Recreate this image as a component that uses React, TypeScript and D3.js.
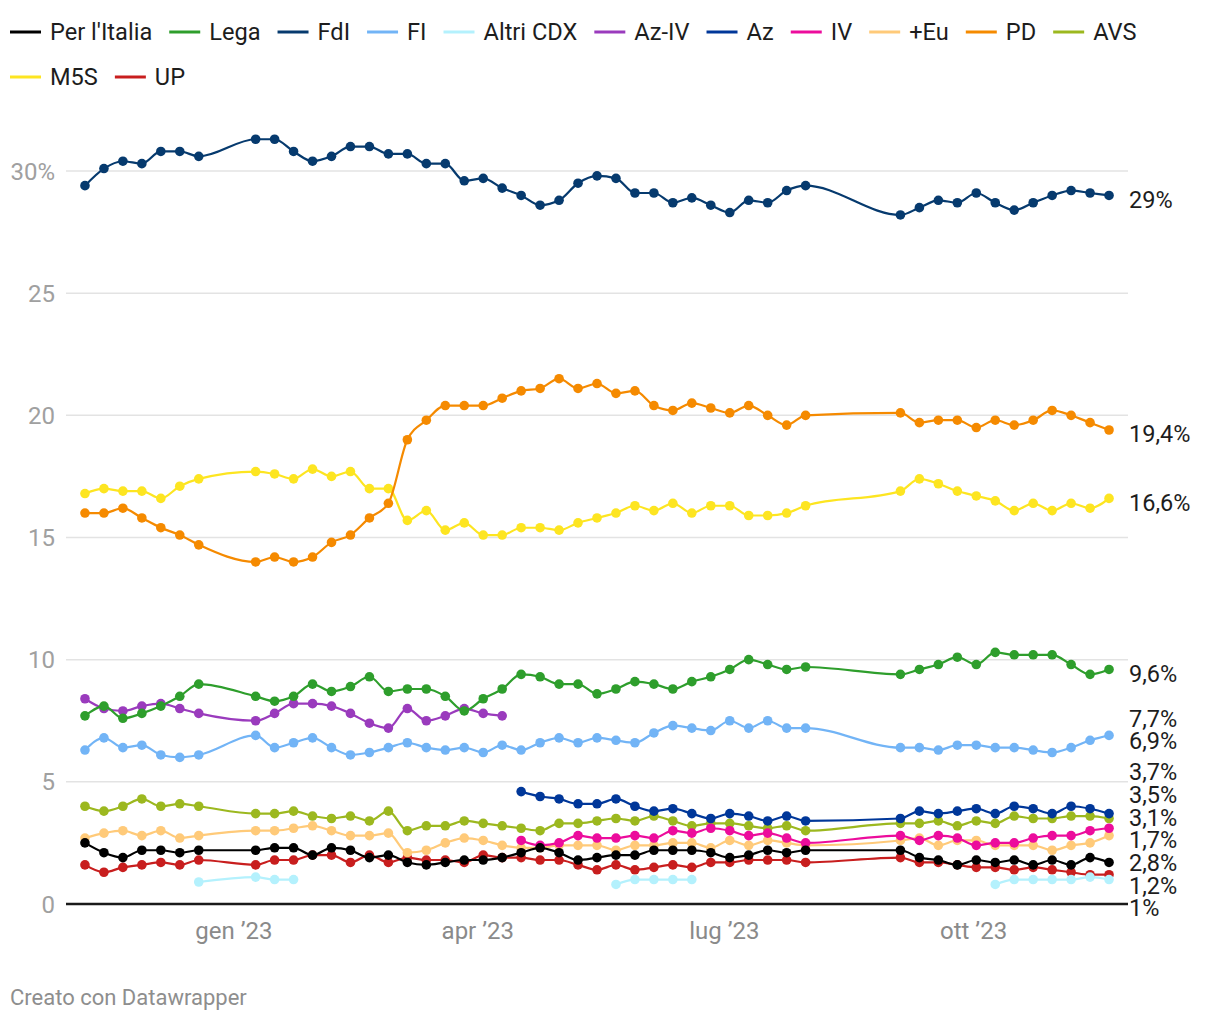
import React, { useMemo } from "react";
import * as d3 from "d3";

// ---------- DATA ----------
const dates = [
  "2022-11-07", "2022-11-14", "2022-11-21", "2022-11-28", "2022-12-05", "2022-12-12", "2022-12-19",
  "2023-01-09", "2023-01-16", "2023-01-23", "2023-01-30", "2023-02-06", "2023-02-13", "2023-02-20",
  "2023-02-27", "2023-03-06", "2023-03-13", "2023-03-20", "2023-03-27", "2023-04-03", "2023-04-10",
  "2023-04-17", "2023-04-24", "2023-05-01", "2023-05-08", "2023-05-15", "2023-05-22", "2023-05-29",
  "2023-06-05", "2023-06-12", "2023-06-19", "2023-06-26", "2023-07-03", "2023-07-10", "2023-07-17",
  "2023-07-24", "2023-07-31", "2023-09-04", "2023-09-11", "2023-09-18", "2023-09-25", "2023-10-02",
  "2023-10-09", "2023-10-16", "2023-10-23", "2023-10-30", "2023-11-06", "2023-11-13", "2023-11-20",
];

const n = null;

const perItalia = [2.5, 2.1, 1.9, 2.2, 2.2, 2.1, 2.2, 2.2, 2.3, 2.3, 2.0, 2.3, 2.2, 1.9, 2.0, 1.7, 1.6, 1.7, 1.8, 1.8, 1.9, 2.1, 2.3, 2.1, 1.8, 1.9, 2.0, 2.0, 2.2, 2.2, 2.2, 2.1, 1.9, 2.0, 2.2, 2.1, 2.2, 2.2, 1.9, 1.8, 1.6, 1.8, 1.7, 1.8, 1.6, 1.8, 1.6, 1.9, 1.7];
const lega = [7.7, 8.1, 7.6, 7.8, 8.1, 8.5, 9.0, 8.5, 8.3, 8.5, 9.0, 8.7, 8.9, 9.3, 8.7, 8.8, 8.8, 8.5, 7.9, 8.4, 8.8, 9.4, 9.3, 9.0, 9.0, 8.6, 8.8, 9.1, 9.0, 8.8, 9.1, 9.3, 9.6, 10.0, 9.8, 9.6, 9.7, 9.4, 9.6, 9.8, 10.1, 9.8, 10.3, 10.2, 10.2, 10.2, 9.8, 9.4, 9.6];
const fdi = [29.4, 30.1, 30.4, 30.3, 30.8, 30.8, 30.6, 31.3, 31.3, 30.8, 30.4, 30.6, 31.0, 31.0, 30.7, 30.7, 30.3, 30.3, 29.6, 29.7, 29.3, 29.0, 28.6, 28.8, 29.5, 29.8, 29.7, 29.1, 29.1, 28.7, 28.9, 28.6, 28.3, 28.8, 28.7, 29.2, 29.4, 28.2, 28.5, 28.8, 28.7, 29.1, 28.7, 28.4, 28.7, 29.0, 29.2, 29.1, 29.0];
const fi = [6.3, 6.8, 6.4, 6.5, 6.1, 6.0, 6.1, 6.9, 6.4, 6.6, 6.8, 6.4, 6.1, 6.2, 6.4, 6.6, 6.4, 6.3, 6.4, 6.2, 6.5, 6.3, 6.6, 6.8, 6.6, 6.8, 6.7, 6.6, 7.0, 7.3, 7.2, 7.1, 7.5, 7.2, 7.5, 7.2, 7.2, 6.4, 6.4, 6.3, 6.5, 6.5, 6.4, 6.4, 6.3, 6.2, 6.4, 6.7, 6.9];
const altriCdx = [n, n, n, n, n, n, 0.9, 1.1, 1.0, 1.0, n, n, n, n, n, n, n, n, n, n, n, n, n, n, n, n, 0.8, 1.0, 1.0, 1.0, 1.0, n, n, n, n, n, n, n, n, n, n, n, 0.8, 1.0, 1.0, 1.0, 1.0, 1.1, 1.0];
const azIv = [8.4, 8.0, 7.9, 8.1, 8.2, 8.0, 7.8, 7.5, 7.8, 8.2, 8.2, 8.1, 7.8, 7.4, 7.2, 8.0, 7.5, 7.7, 8.0, 7.8, 7.7, n, n, n, n, n, n, n, n, n, n, n, n, n, n, n, n, n, n, n, n, n, n, n, n, n, n, n, n];
const az = [n, n, n, n, n, n, n, n, n, n, n, n, n, n, n, n, n, n, n, n, n, 4.6, 4.4, 4.3, 4.1, 4.1, 4.3, 4.0, 3.8, 3.9, 3.7, 3.5, 3.7, 3.6, 3.4, 3.6, 3.4, 3.5, 3.8, 3.7, 3.8, 3.9, 3.7, 4.0, 3.9, 3.7, 4.0, 3.9, 3.7];
const iv = [n, n, n, n, n, n, n, n, n, n, n, n, n, n, n, n, n, n, n, n, n, 2.6, 2.4, 2.5, 2.8, 2.7, 2.7, 2.8, 2.7, 3.0, 2.9, 3.1, 3.0, 2.8, 2.9, 2.7, 2.5, 2.8, 2.6, 2.8, 2.7, 2.4, 2.5, 2.5, 2.7, 2.8, 2.8, 3.0, 3.1];
const piuEuropa = [2.7, 2.9, 3.0, 2.8, 3.0, 2.7, 2.8, 3.0, 3.0, 3.1, 3.2, 3.0, 2.8, 2.8, 2.9, 2.1, 2.2, 2.5, 2.7, 2.6, 2.4, 2.3, 2.3, 2.4, 2.4, 2.4, 2.2, 2.4, 2.4, 2.5, 2.5, 2.3, 2.6, 2.4, 2.6, 2.5, 2.4, 2.6, 2.7, 2.4, 2.6, 2.6, 2.4, 2.4, 2.4, 2.2, 2.4, 2.5, 2.8];
const pd = [16.0, 16.0, 16.2, 15.8, 15.4, 15.1, 14.7, 14.0, 14.2, 14.0, 14.2, 14.8, 15.1, 15.8, 16.4, 19.0, 19.8, 20.4, 20.4, 20.4, 20.7, 21.0, 21.1, 21.5, 21.1, 21.3, 20.9, 21.0, 20.4, 20.2, 20.5, 20.3, 20.1, 20.4, 20.0, 19.6, 20.0, 20.1, 19.7, 19.8, 19.8, 19.5, 19.8, 19.6, 19.8, 20.2, 20.0, 19.7, 19.4];
const avs = [4.0, 3.8, 4.0, 4.3, 4.0, 4.1, 4.0, 3.7, 3.7, 3.8, 3.6, 3.5, 3.6, 3.4, 3.8, 3.0, 3.2, 3.2, 3.4, 3.3, 3.2, 3.1, 3.0, 3.3, 3.3, 3.4, 3.5, 3.4, 3.6, 3.4, 3.2, 3.3, 3.3, 3.2, 3.1, 3.2, 3.0, 3.3, 3.3, 3.4, 3.2, 3.4, 3.3, 3.6, 3.5, 3.5, 3.6, 3.6, 3.5];
const m5s = [16.8, 17.0, 16.9, 16.9, 16.6, 17.1, 17.4, 17.7, 17.6, 17.4, 17.8, 17.5, 17.7, 17.0, 17.0, 15.7, 16.1, 15.3, 15.6, 15.1, 15.1, 15.4, 15.4, 15.3, 15.6, 15.8, 16.0, 16.3, 16.1, 16.4, 16.0, 16.3, 16.3, 15.9, 15.9, 16.0, 16.3, 16.9, 17.4, 17.2, 16.9, 16.7, 16.5, 16.1, 16.4, 16.1, 16.4, 16.2, 16.6];
const up = [1.6, 1.3, 1.5, 1.6, 1.7, 1.6, 1.8, 1.6, 1.8, 1.8, 2.0, 2.0, 1.7, 2.0, 1.7, 1.9, 1.8, 1.8, 1.7, 2.0, 1.9, 1.9, 1.8, 1.8, 1.6, 1.4, 1.6, 1.4, 1.5, 1.6, 1.5, 1.7, 1.7, 1.8, 1.8, 1.8, 1.7, 1.9, 1.7, 1.7, 1.6, 1.5, 1.5, 1.4, 1.5, 1.4, 1.3, 1.2, 1.2];

const seriesNames = ["Per l'Italia", "Lega", "FdI", "FI", "Altri CDX", "Az-IV", "Az", "IV", "+Eu", "PD", "AVS", "M5S", "UP"];
const seriesValues = [perItalia, lega, fdi, fi, altriCdx, azIv, az, iv, piuEuropa, pd, avs, m5s, up];
const seriesColors = ["#000000", "#2e9e2c", "#063a6e", "#72b4f6", "#b4f1fd", "#9a3bbd", "#003799", "#ec0c9c", "#ffca79", "#f58a00", "#9cb81f", "#fde521", "#c81e1e"];

// order of the stacked end labels, top to bottom
const endLabelOrder = ["FdI", "PD", "M5S", "Lega", "Az-IV", "FI", "Az", "AVS", "IV", "Per l'Italia", "+Eu", "UP", "Altri CDX"];

const yTicks = [0, 5, 10, 15, 20, 25, 30];
const xTickDates = ["2023-01-01", "2023-04-01", "2023-07-01", "2023-10-01"];
const xTickLabels = ["gen ’23", "apr ’23", "lug ’23", "ott ’23"];
const xDomain = ["2022-10-31", "2023-11-27"];

// ---------- LAYOUT ----------
const W = 1220;
const H = 1020;
const FONT = "Roboto, 'Noto Sans', sans-serif";
const plot = { left: 66, right: 1128, top: 171, bottom: 904 };
const legendFs = 23.6;
const axisFs = 24;
const labelFs = 23.5;
const footFs = 22;

function fmt(v: number) {
  return (Math.round(v * 10) / 10).toString().replace(".", ",") + "%";
}

export default function App() {
  const parse = d3.utcParse("%Y-%m-%d");
  const x = d3.scaleUtc().domain(xDomain.map((d) => parse(d) as Date)).range([plot.left, plot.right]);
  const y = d3.scaleLinear().domain([0, 30]).range([plot.bottom, plot.top]);
  const xs = dates.map((d) => x(parse(d) as Date));

  const series = seriesNames.map((name, i) => ({
    name,
    color: seriesColors[i],
    values: seriesValues[i],
  }));

  const line = d3
    .line<number | null>()
    .defined((d) => d != null)
    .x((_, i) => xs[i])
    .y((d) => y(d as number))
    .curve(d3.curveMonotoneX);

  // legend layout using text measurement
  const legendItems = useMemo(() => {
    const ctx = document.createElement("canvas").getContext("2d")!;
    ctx.font = `${legendFs}px Roboto`;
    const sw = 31, gapText = 9, gapItem = 17;
    let cx = 10, row = 0;
    const out: { name: string; color: string; x: number; row: number; tw: number }[] = [];
    series.forEach((s) => {
      const tw = ctx.measureText(s.name).width;
      const wItem = sw + gapText + tw;
      if (cx + wItem > W - 10) {
        row += 1;
        cx = 10;
      }
      out.push({ name: s.name, color: s.color, x: cx, row, tw });
      cx += wItem + gapItem;
    });
    return out;
  }, []);

  // end labels with collision resolution (bounded at the bottom of the plot)
  const endLabels = useMemo(() => {
    const h = 22.7;
    const maxBottom = plot.bottom + h / 2;
    const items = endLabelOrder.map((name) => {
      const s = series.find((q) => q.name === name)!;
      const vals = s.values.filter((v) => v != null) as number[];
      const v = vals[vals.length - 1];
      return { name, v, target: y(v) };
    });
    type Cl = { items: typeof items; top: number };
    const clusters: Cl[] = [];
    const clamp = (c: Cl) => {
      if (c.top + c.items.length * h > maxBottom) c.top = maxBottom - c.items.length * h;
      return c;
    };
    items.forEach((it) => {
      clusters.push(clamp({ items: [it], top: it.target - h / 2 }));
      while (clusters.length > 1) {
        const a = clusters[clusters.length - 2];
        const b = clusters[clusters.length - 1];
        if (b.top < a.top + a.items.length * h) {
          const merged = a.items.concat(b.items);
          const mean = d3.mean(merged, (m) => m.target) as number;
          clusters.splice(clusters.length - 2, 2, clamp({ items: merged, top: mean - (merged.length * h) / 2 }));
        } else break;
      }
    });
    const out: { name: string; v: number; cy: number }[] = [];
    clusters.forEach((c) => c.items.forEach((it, k) => out.push({ name: it.name, v: it.v, cy: c.top + h * k + h / 2 })));
    return out;
  }, []);

  const drawOrder = series.slice().reverse();

  return (
    <svg width={W} height={H} style={{ position: "absolute", left: 0, top: 0, background: "#fff" }} fontFamily={FONT}>
      {/* legend */}
      {legendItems.map((l) => {
        const cy = 32 + l.row * 45;
        return (
          <g key={l.name}>
            <line x1={l.x} x2={l.x + 31} y1={cy} y2={cy} stroke={l.color} strokeWidth={3} />
            <text x={l.x + 40} y={cy + legendFs * 0.355} fontSize={legendFs} fill="#1d1d1d">
              {l.name}
            </text>
          </g>
        );
      })}

      {/* grid */}
      {yTicks.filter((t) => t > 0).map((t) => (
        <line key={t} x1={plot.left} x2={plot.right} y1={y(t)} y2={y(t)} stroke="#e3e3e3" strokeWidth={1.5} />
      ))}
      {yTicks.map((t) => (
        <text key={"yl" + t} x={55} y={y(t) + axisFs * 0.355} textAnchor="end" fontSize={axisFs} fill="#a0a0a0">
          {t === 30 ? "30%" : t}
        </text>
      ))}

      {/* x labels */}
      {xTickDates.map((d, i) => (
        <text key={d} x={x(parse(d) as Date)} y={930 + axisFs * 0.355} textAnchor="middle" fontSize={axisFs} fill="#8a8a8a">
          {xTickLabels[i]}
        </text>
      ))}

      {/* series */}
      {drawOrder.map((s) => (
        <g key={s.name}>
          <path d={line(s.values) || ""} fill="none" stroke={s.color} strokeWidth={2.2} />
          {s.values.map((v, i) =>
            v == null ? null : <circle key={i} cx={xs[i]} cy={y(v)} r={4.8} fill={s.color} />
          )}
        </g>
      ))}

      {/* baseline */}
      <line x1={plot.left} x2={plot.right} y1={y(0)} y2={y(0)} stroke="#1a1a1a" strokeWidth={2.5} />

      {/* end labels */}
      {endLabels.map((l) => (
        <text key={l.name} x={1129} y={l.cy + 4 + labelFs * 0.355} fontSize={labelFs} fill="#1d1d1d">
          {fmt(l.v)}
        </text>
      ))}

      <text x={10} y={997 + footFs * 0.355} fontSize={footFs} fill="#8e8e8e">
        Creato con Datawrapper
      </text>
    </svg>
  );
}
